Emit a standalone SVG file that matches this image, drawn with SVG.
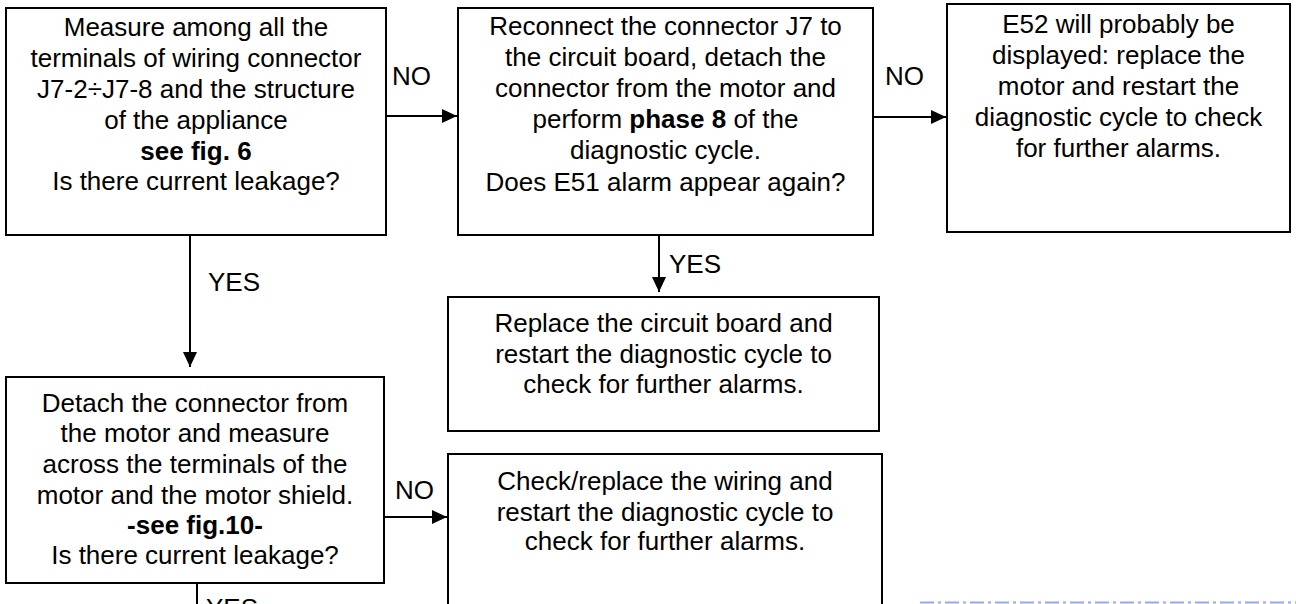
<svg xmlns="http://www.w3.org/2000/svg" width="1296" height="604" viewBox="0 0 1296 604">
<style>
.box{fill:#fff;stroke:#000;stroke-width:2}
.t{font-family:"Liberation Sans",Arial,sans-serif;font-size:26px;fill:#000;text-anchor:middle}
.l{font-family:"Liberation Sans",Arial,sans-serif;font-size:26px;fill:#000}
.b{font-weight:bold}
.c{stroke:#000;stroke-width:2;fill:none}
</style>
<defs>
<marker id="ah" markerUnits="userSpaceOnUse" markerWidth="16" markerHeight="16" viewBox="0 0 16 16" refX="15" refY="8" orient="auto">
<path d="M0,1 L15,8 L0,15 Z" fill="#000"/>
</marker>
</defs>
<rect width="1296" height="604" fill="#fff"/>
<g id="n1">
<rect class="box" x="6" y="8" width="380" height="227"/>
<text class="t"><tspan x="196" y="36">Measure among all the</tspan><tspan x="196" y="67">terminals of wiring connector</tspan><tspan x="196" y="98">J7-2÷J7-8 and the structure</tspan><tspan x="196" y="129">of the appliance</tspan><tspan x="196" y="160" class="b">see fig. 6</tspan><tspan x="196" y="190">Is there current leakage?</tspan></text>
</g>
<g id="n2">
<rect class="box" x="458" y="8" width="415" height="227"/>
<text class="t"><tspan x="665.5" y="35">Reconnect the connector J7 to</tspan><tspan x="665.5" y="66">the circuit board, detach the</tspan><tspan x="665.5" y="97">connector from the motor and</tspan><tspan x="665.5" y="128">perform <tspan class="b">phase 8</tspan> of the</tspan><tspan x="665.5" y="159">diagnostic cycle.</tspan><tspan x="665.5" y="191">Does E51 alarm appear again?</tspan></text>
</g>
<g id="n3">
<rect class="box" x="947" y="4" width="343" height="228"/>
<text class="t"><tspan x="1118.5" y="33">E52 will probably be</tspan><tspan x="1118.5" y="64">displayed: replace the</tspan><tspan x="1118.5" y="95">motor and restart the</tspan><tspan x="1118.5" y="126">diagnostic cycle to check</tspan><tspan x="1118.5" y="157">for further alarms.</tspan></text>
</g>
<g id="n4">
<rect class="box" x="6" y="377" width="378" height="206"/>
<text class="t"><tspan x="195" y="412">Detach the connector from</tspan><tspan x="195" y="442">the motor and measure</tspan><tspan x="195" y="473">across the terminals of the</tspan><tspan x="195" y="504">motor and the motor shield.</tspan><tspan x="195" y="534" class="b">-see fig.10-</tspan><tspan x="195" y="564">Is there current leakage?</tspan></text>
</g>
<g id="n5">
<rect class="box" x="448" y="297" width="431" height="134"/>
<text class="t"><tspan x="663.5" y="332">Replace the circuit board and</tspan><tspan x="663.5" y="363">restart the diagnostic cycle to</tspan><tspan x="663.5" y="393">check for further alarms.</tspan></text>
</g>
<g id="n6">
<rect class="box" x="448" y="454" width="434" height="170"/>
<text class="t"><tspan x="665" y="490">Check/replace the wiring and</tspan><tspan x="665" y="521">restart the diagnostic cycle to</tspan><tspan x="665" y="550">check for further alarms.</tspan></text>
</g>
<g id="connectors">
<line class="c" x1="386" y1="116" x2="457" y2="116" marker-end="url(#ah)"/>
<text class="l" x="392" y="85">NO</text>
<line class="c" x1="873" y1="117" x2="946" y2="117" marker-end="url(#ah)"/>
<text class="l" x="885" y="85">NO</text>
<line class="c" x1="190" y1="235" x2="190" y2="367" marker-end="url(#ah)"/>
<text class="l" x="208" y="291">YES</text>
<line class="c" x1="659" y1="235" x2="659" y2="292" marker-end="url(#ah)"/>
<text class="l" x="669" y="273">YES</text>
<line class="c" x1="384" y1="517" x2="447" y2="517" marker-end="url(#ah)"/>
<text class="l" x="395" y="499">NO</text>
<line class="c" x1="197" y1="583" x2="197" y2="610"/>
<text class="l" x="206" y="617">YES</text>
</g>
<line x1="920" y1="602.5" x2="1296" y2="602.5" stroke="#9aa8e8" stroke-width="2" stroke-dasharray="14,4,3,4"/>
</svg>
